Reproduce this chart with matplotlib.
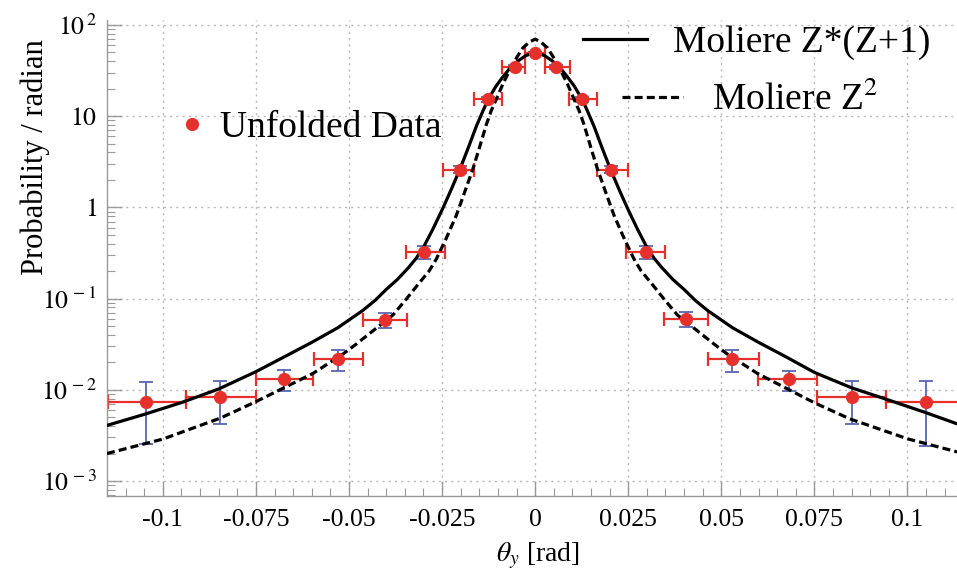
import matplotlib
matplotlib.use("Agg")
import matplotlib.pyplot as plt
from matplotlib.lines import Line2D
from matplotlib.ticker import FixedLocator, FixedFormatter, MultipleLocator, LogLocator, NullFormatter

plt.rcParams['font.family'] = ['Liberation Serif', 'DejaVu Serif']
plt.rcParams['mathtext.fontset'] = 'stix'

# ---------------- data ----------------
x_data = [-0.1045, -0.0846, -0.0675, -0.0530, -0.0403, -0.0299, -0.0202, -0.0127, -0.0055, 0.0,
          0.0057, 0.0126, 0.0205, 0.0297, 0.0404, 0.0530, 0.0681, 0.0852, 0.1049]
y_data = [0.0074, 0.0084, 0.0131, 0.0217, 0.0588, 0.328, 2.6, 15.4, 34.8, 49.2,
          34.8, 15.4, 2.6, 0.328, 0.0603, 0.0217, 0.0131, 0.0084, 0.0073]
bin_lo = [-0.1148, -0.0937, -0.0751, -0.0595, -0.0463, -0.0348, -0.0248, -0.0165, -0.0088, -0.0026,
          0.0026, 0.0091, 0.0167, 0.0245, 0.0346, 0.0463, 0.0599, 0.0758, 0.0941]
bin_hi = [-0.0937, -0.0751, -0.0598, -0.0463, -0.0345, -0.0243, -0.0165, -0.0088, -0.0026, 0.0026,
          0.0093, 0.0165, 0.0250, 0.0348, 0.0465, 0.0601, 0.0758, 0.0941, 0.1160]
y_up = [0.0123, 0.0126, 0.0166, 0.0270, 0.0695, 0.382, 2.85, 16.4, 36.5, 51.0,
        36.5, 16.4, 2.85, 0.380, 0.0708, 0.0270, 0.0162, 0.0126, 0.0126]
y_low = [0.00255, 0.00423, 0.00975, 0.0162, 0.0475, 0.273, 2.37, 14.4, 33.0, 47.5,
         33.0, 14.4, 2.37, 0.275, 0.0484, 0.0158, 0.0098, 0.00423, 0.00244]

x_solid = [-0.115, -0.105, -0.095, -0.085, -0.075, -0.067, -0.060, -0.053, -0.0463, -0.043,
           -0.040, -0.037, -0.034, -0.032, -0.0299, -0.0275, -0.0248, -0.0225, -0.0202, -0.018,
           -0.0158, -0.014, -0.0127, -0.0105, -0.0087, -0.0065, -0.0045, -0.0025, 0.0,
           0.0025, 0.0045, 0.0065, 0.0087, 0.0105, 0.0127, 0.014, 0.0158,
           0.018, 0.0202, 0.0225, 0.0248, 0.0275, 0.0299, 0.032, 0.034, 0.037, 0.040,
           0.043, 0.0463, 0.053, 0.060, 0.067, 0.075, 0.085, 0.095, 0.105, 0.115]
y_solid = [0.00407, 0.00537, 0.00724, 0.0102, 0.0158, 0.0234, 0.0331, 0.0479, 0.0741, 0.0955,
           0.126, 0.162, 0.219, 0.275, 0.372, 0.575, 0.977, 1.585, 2.63, 4.47,
           7.76, 11.5, 15.1, 21.4, 26.9, 34.7, 40.7, 46.2, 50.1,
           46.2, 40.7, 34.7, 26.9, 21.4, 15.1, 11.5, 7.76,
           4.47, 2.63, 1.585, 0.977, 0.575, 0.372, 0.275, 0.219, 0.162, 0.126,
           0.0955, 0.0741, 0.0479, 0.0331, 0.0234, 0.0155, 0.0105, 0.0077, 0.0056, 0.0040]

x_dash = [-0.115, -0.100, -0.0845, -0.075, -0.0597, -0.0517, -0.0481, -0.0382, -0.0345, -0.031,
          -0.0285, -0.0266, -0.024, -0.0212, -0.019, -0.0167, -0.015, -0.0131, -0.0118, -0.0104,
          -0.0087, -0.0069, -0.005, -0.0033, -0.0015, 0.0,
          0.0015, 0.0033, 0.005, 0.0069, 0.0087, 0.0104, 0.0118, 0.0131, 0.015, 0.0167,
          0.019, 0.0212, 0.024, 0.0266, 0.0285, 0.031, 0.0345, 0.0382, 0.0481, 0.0517,
          0.0597, 0.075, 0.0845, 0.100, 0.115]
y_dash = [0.00200, 0.00288, 0.00490, 0.00741, 0.0151, 0.0245, 0.0316, 0.0661, 0.100, 0.151,
          0.200, 0.269, 0.447, 0.813, 1.445, 2.66, 4.47, 8.13, 11.5, 15.5,
          22.4, 31.6, 43.7, 56.2, 65.3, 70.0,
          65.3, 56.2, 43.7, 31.6, 22.4, 15.5, 11.5, 8.13, 4.47, 2.66,
          1.445, 0.813, 0.447, 0.269, 0.200, 0.151, 0.100, 0.0661, 0.0316, 0.0245,
          0.0151, 0.0072, 0.0048, 0.0029, 0.0020]

y_ticks = [1e-3, 1e-2, 1e-1, 1, 10, 100]
y_ticklabels = [r'$10^{\,-3}$', r'$10^{\,-2}$', r'$10^{\,-1}$',
                r'$1\enspace$', r'$10\enspace$', r'$10^{\,2}$']
x_ticks = [-0.1, -0.075, -0.05, -0.025, 0, 0.025, 0.05, 0.075, 0.1]
x_ticklabels = ['-0.1', '-0.075', '-0.05', '-0.025', '0', '0.025', '0.05', '0.075', '0.1']

# ---------------- figure ----------------
W, H = 957, 581
fig = plt.figure(figsize=(W / 100, H / 100), dpi=100)
ax = fig.add_axes([107 / W, (H - 496) / H, (957 - 107) / W, (496 - 20) / H])

ax.set_yscale('log')
ax.set_xlim(-0.115, 0.1133)
ax.set_ylim(6.84e-4, 113.5)

red = '#e5302c'
blue = '#5866b0'
grey = '#9a9a9a'
dash_style = (0, (2.5, 1.3))

# error bars
xerr = [[x - lo for x, lo in zip(x_data, bin_lo)], [hi - x for x, hi in zip(x_data, bin_hi)]]
yerr = [[y - lo for y, lo in zip(y_data, y_low)], [hi - y for y, hi in zip(y_data, y_up)]]
ax.errorbar(x_data, y_data, yerr=yerr, fmt='none', ecolor=blue, elinewidth=1.3,
            capsize=5, capthick=1.3, zorder=2)
ax.errorbar(x_data, y_data, xerr=xerr, fmt='none', ecolor=red, elinewidth=1.6,
            capsize=5, capthick=1.6, zorder=2)

# curves
ax.plot(x_solid, y_solid, color='black', lw=2.3, zorder=3)
ax.plot(x_dash, y_dash, color='black', lw=2.3, ls=dash_style, zorder=3)

# markers
ax.plot(x_data, y_data, 'o', color=red, ms=8.5, mec=red, zorder=4, ls='none')

# grid / ticks
ax.yaxis.set_major_locator(FixedLocator(y_ticks))
ax.yaxis.set_major_formatter(FixedFormatter(y_ticklabels))
ax.yaxis.set_minor_locator(LogLocator(base=10, subs=range(2, 10)))
ax.yaxis.set_minor_formatter(NullFormatter())
ax.xaxis.set_major_locator(FixedLocator(x_ticks))
ax.xaxis.set_major_formatter(FixedFormatter(x_ticklabels))
ax.xaxis.set_minor_locator(MultipleLocator(0.005))

ax.grid(True, which='major', color='#b8b8b8', ls=(0, (1.5, 3)), lw=1.0)
ax.tick_params(axis='both', which='major', direction='in', length=11, width=1.0,
               color=grey, labelsize=18.5)
ax.tick_params(axis='both', which='minor', direction='in', length=6, width=0.8, color=grey)
ax.tick_params(axis='x', which='major', pad=9)
ax.tick_params(axis='y', which='major', pad=7)

for s in ['top', 'right']:
    ax.spines[s].set_visible(False)
for s in ['left', 'bottom']:
    ax.spines[s].set_color(grey)
    ax.spines[s].set_linewidth(1.0)

ax.set_xlabel(r'$\theta_y$ [rad]', fontsize=20)
ax.xaxis.set_label_coords(0.507, -0.126)
ax.xaxis.label.set_va('center')
ax.set_ylabel('Probability / radian', fontsize=22)
ax.yaxis.set_label_coords(-0.0847, 0.712)
ax.yaxis.label.set_va('center')

# legends
h_data = Line2D([], [], marker='o', color=red, ms=8.5, ls='none')
h_solid = Line2D([], [], color='black', lw=2.3)
h_dash = Line2D([], [], color='black', lw=2.3, ls=dash_style)

common = dict(frameon=False, fontsize=27, borderpad=0, borderaxespad=0,
              bbox_transform=fig.transFigure, loc='center left')
leg1 = ax.legend([h_data], ['Unfolded Data'], bbox_to_anchor=(173 / W, (H - 128) / H),
                 handlelength=1.0, handletextpad=0.25, **common)
ax.add_artist(leg1)
leg2 = ax.legend([h_solid], ['Moliere Z*(Z+1)'], bbox_to_anchor=(583 / W, (H - 43) / H),
                 handlelength=1.7, handletextpad=0.7, **common)
ax.add_artist(leg2)
leg3 = ax.legend([h_dash], [r'Moliere Z$^2$'], bbox_to_anchor=(622 / W, (H - 100) / H),
                 handlelength=1.63, handletextpad=0.77, **common)

fig.savefig('out.png', dpi=100)
